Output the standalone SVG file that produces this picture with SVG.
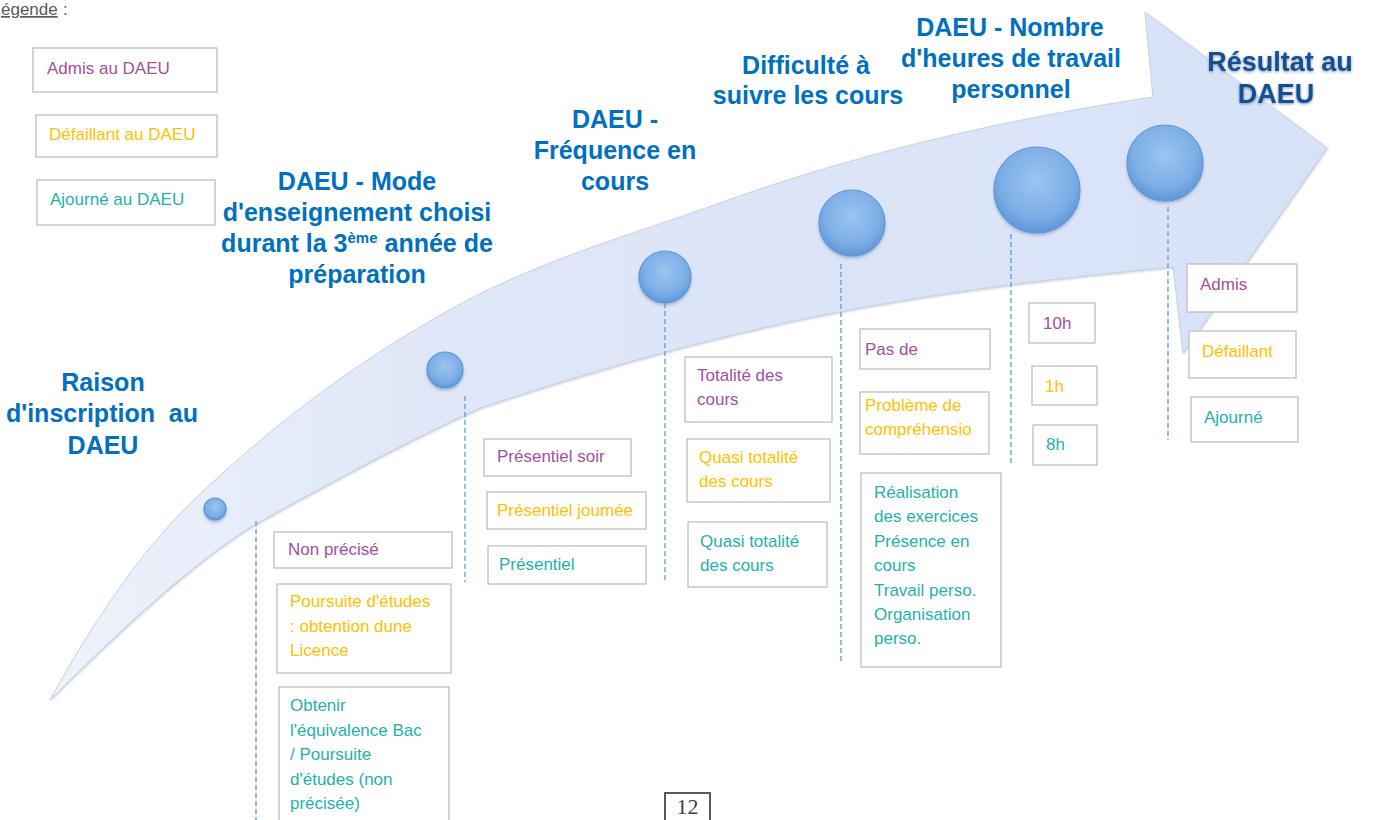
<svg xmlns="http://www.w3.org/2000/svg" width="1375" height="820" viewBox="0 0 1375 820">
<style>
.box{fill:#ffffff;stroke:#bfbfbf;stroke-width:1.3}
.t{font-family:"Liberation Sans",Arial,sans-serif;font-size:17px}
.p{fill:#a54f9b}
.o{fill:#ffc000}
.g{fill:#1fb2aa}
.title{font-family:"Liberation Sans",Arial,sans-serif;font-size:25px;font-weight:bold;fill:#0070c0;text-anchor:middle}
.res{font-family:"Liberation Sans",Arial,sans-serif;font-size:27px;font-weight:bold;fill:#17508f;text-anchor:middle}
.dash{stroke:#5b9bd5;stroke-width:1.3;stroke-dasharray:5 3;fill:none}
.ball{fill:url(#ballGrad);stroke:#5f99da;stroke-width:1.2;filter:url(#ballShadow)}
</style>
<defs>
<linearGradient id="arrowGrad" x1="0" y1="0" x2="1" y2="0">
<stop offset="0" stop-color="#eef2fb"/>
<stop offset="0.3" stop-color="#dfe7f8"/>
<stop offset="1" stop-color="#d8e2f7"/>
</linearGradient>
<radialGradient id="ballGrad" cx="0.5" cy="0.4" r="0.6">
<stop offset="0" stop-color="#9cc4ef"/>
<stop offset="0.7" stop-color="#7caee6"/>
<stop offset="1" stop-color="#5e96d8"/>
</radialGradient>
<filter id="ballShadow" x="-30%" y="-30%" width="160%" height="170%">
<feDropShadow dx="0" dy="2" stdDeviation="1.5" flood-color="#6b7fa0" flood-opacity="0.45"/>
</filter>
<filter id="arrowShadow" x="-5%" y="-5%" width="110%" height="110%">
<feDropShadow dx="1" dy="1" stdDeviation="1" flood-color="#9aa6bd" flood-opacity="0.5"/>
</filter>
<filter id="glow" x="-10%" y="-20%" width="120%" height="140%">
<feDropShadow dx="0" dy="1" stdDeviation="1.8" flood-color="#4f78b0" flood-opacity="0.8"/>
</filter>
</defs>
<rect width="1375" height="820" fill="#ffffff"/>

<g id="arrow">
<path d="M50,700 C100,610 147,544 197,497 C282,416 368,355 453,308 C542,259 631,235 720,203 C864,151 1009,119 1153,97 L1145,12 L1327,148 L1183,353 L1173,267 C1069,277 964,289 860,308 C733,331 607,366 480,408 C408,441 335,480 263,520 C192,559 90,660 50,700 Z" fill="url(#arrowGrad)" stroke="#c8d0e2" stroke-width="1" filter="url(#arrowShadow)"/>
</g>

<g id="legend">
<text x="1" y="15" class="t" fill="#595959" text-decoration="underline">égende</text>
<text x="63" y="15" class="t" fill="#595959"> :</text>
<rect class="box" x="33" y="48" width="184" height="44"/>
<text x="47" y="74" class="t p">Admis au DAEU</text>
<rect class="box" x="36" y="115" width="181" height="42"/>
<text x="49" y="140" class="t o">Défaillant au DAEU</text>
<rect class="box" x="37" y="180" width="178" height="45"/>
<text x="50" y="205" class="t g">Ajourné au DAEU</text>
</g>

<g id="connectors">
<line class="dash" x1="256" y1="521" x2="256" y2="820"/>
<line class="dash" x1="465" y1="396" x2="465" y2="582"/>
<line class="dash" x1="665" y1="303" x2="665" y2="581"/>
<line class="dash" x1="841" y1="264" x2="841" y2="661"/>
<line class="dash" x1="1011" y1="234" x2="1011" y2="465"/>
<line class="dash" x1="1168" y1="207" x2="1168" y2="440"/>
</g>

<g id="stage1">
<text class="title" xml:space="preserve"><tspan x="103" y="391">Raison</tspan><tspan x="102" y="422">d'inscription  au</tspan><tspan x="103" y="454">DAEU</tspan></text>
<circle class="ball" cx="215" cy="509" r="11"/>
<rect class="box" x="274" y="532" width="178" height="36"/>
<text x="288" y="555" class="t p">Non précisé</text>
<rect class="box" x="277" y="584" width="174" height="89"/>
<text class="t o"><tspan x="290" y="607">Poursuite d'études</tspan><tspan x="290" y="632">: obtention dune</tspan><tspan x="290" y="656">Licence</tspan></text>
<rect class="box" x="279" y="687" width="170" height="140"/>
<text class="t g"><tspan x="290" y="711">Obtenir</tspan><tspan x="290" y="736">l'équivalence Bac</tspan><tspan x="290" y="760">/ Poursuite</tspan><tspan x="290" y="785">d'études (non</tspan><tspan x="290" y="809">précisée)</tspan></text>
</g>

<g id="stage2">
<text class="title"><tspan x="357" y="190">DAEU - Mode</tspan><tspan x="357" y="221">d'enseignement choisi</tspan><tspan x="357" y="252">durant la 3<tspan font-size="15" dy="-9">ème</tspan><tspan dy="9"> année de</tspan></tspan><tspan x="357" y="283">préparation</tspan></text>
<circle class="ball" cx="445" cy="370" r="18"/>
<rect class="box" x="484" y="439" width="147" height="37"/>
<text x="497" y="462" class="t p">Présentiel soir</text>
<rect class="box" x="487" y="492" width="159" height="37"/>
<text x="497" y="516" class="t o">Présentiel joumée</text>
<rect class="box" x="488" y="546" width="158" height="38"/>
<text x="499" y="570" class="t g">Présentiel</text>
</g>

<g id="stage3">
<text class="title"><tspan x="615" y="128">DAEU -</tspan><tspan x="615" y="159">Fréquence en</tspan><tspan x="615" y="190">cours</tspan></text>
<circle class="ball" cx="665" cy="277" r="26"/>
<rect class="box" x="685" y="357" width="147" height="65"/>
<text class="t p"><tspan x="697" y="381">Totalité des</tspan><tspan x="697" y="405">cours</tspan></text>
<rect class="box" x="687" y="439" width="143" height="63"/>
<text class="t o"><tspan x="699" y="463">Quasi totalité</tspan><tspan x="699" y="487">des cours</tspan></text>
<rect class="box" x="688" y="522" width="139" height="65"/>
<text class="t g"><tspan x="700" y="547">Quasi totalité</tspan><tspan x="700" y="571">des cours</tspan></text>
</g>

<g id="stage4">
<text class="title"><tspan x="806" y="74">Difficulté à</tspan><tspan x="808" y="104">suivre les cours</tspan></text>
<circle class="ball" cx="852" cy="223" r="33"/>
<rect class="box" x="860" y="329" width="130" height="40"/>
<text x="865" y="355" class="t p">Pas de</text>
<rect class="box" x="860" y="392" width="129" height="62"/>
<text class="t o"><tspan x="865" y="411">Problème de</tspan><tspan x="865" y="435">compréhensio</tspan></text>
<rect class="box" x="861" y="473" width="140" height="194"/>
<text class="t g"><tspan x="874" y="498">Réalisation</tspan><tspan x="874" y="522">des exercices</tspan><tspan x="874" y="547">Présence en</tspan><tspan x="874" y="571">cours</tspan><tspan x="874" y="596">Travail perso.</tspan><tspan x="874" y="620">Organisation</tspan><tspan x="874" y="644">perso.</tspan></text>
</g>

<g id="stage5">
<text class="title"><tspan x="1010" y="36">DAEU - Nombre</tspan><tspan x="1011" y="67">d'heures de travail</tspan><tspan x="1011" y="98">personnel</tspan></text>
<circle class="ball" cx="1037" cy="190" r="43"/>
<rect class="box" x="1029" y="303" width="66" height="40"/>
<text x="1043" y="329" class="t p">10h</text>
<rect class="box" x="1032" y="366" width="65" height="39"/>
<text x="1045" y="392" class="t o">1h</text>
<rect class="box" x="1033" y="425" width="64" height="40"/>
<text x="1046" y="450" class="t g">8h</text>
</g>

<g id="stage6">
<text class="res" filter="url(#glow)"><tspan x="1280" y="71">Résultat au</tspan><tspan x="1276" y="103">DAEU</tspan></text>
<circle class="ball" cx="1165" cy="163" r="38"/>
<rect class="box" x="1187" y="264" width="110" height="48"/>
<text x="1200" y="290" class="t p">Admis</text>
<rect class="box" x="1189" y="331" width="107" height="47"/>
<text x="1202" y="357" class="t o">Défaillant</text>
<rect class="box" x="1191" y="397" width="107" height="45"/>
<text x="1204" y="423" class="t g">Ajourné</text>
</g>

<g id="page">
<rect x="665" y="793" width="45" height="40" fill="#ffffff" stroke="#595959" stroke-width="2"/>
<text x="687.5" y="814" font-family="'Liberation Serif','Times New Roman',serif" font-size="22" fill="#404040" text-anchor="middle">12</text>
</g>
</svg>
